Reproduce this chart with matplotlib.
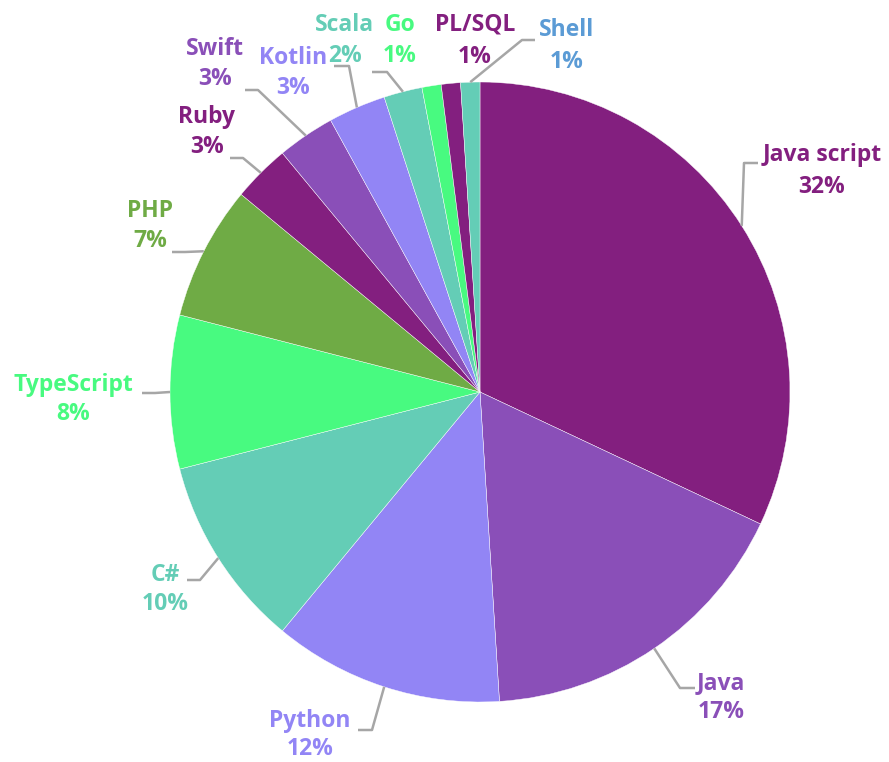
import matplotlib.pyplot as plt
import numpy as np

# data
languages = ['Java script', 'Java', 'Python', 'C#', 'TypeScript', 'PHP', 'Ruby',
             'Swift', 'Kotlin', 'Scala', 'Go', 'PL/SQL', 'Shell']
shares = [32, 17, 12, 10, 8, 7, 3, 3, 3, 2, 1, 1, 1]
slice_colors = ['#831F7F', '#8A4FB8', '#9285F5', '#64CDB6', '#48FA80', '#6FAB45', '#831F7F',
                '#8A4FB8', '#9285F5', '#64CDB6', '#48FA80', '#831F7F', '#64CDB6']
label_colors = slice_colors[:-1] + ['#5B9BD5']

# layout (pixels of the 889x762 image)
W, H = 889, 762
CX, CY, R = 480, 392, 310
# label centre x, first line y, second line y
label_pos = {
    'Java script': (822, 155, 187),
    'Java': (721, 683, 712),
    'Python': (310, 721, 749),
    'C#': (165, 575, 604),
    'TypeScript': (73, 385, 414),
    'PHP': (150, 211, 241),
    'Ruby': (207, 117, 147),
    'Swift': (215, 49, 79),
    'Kotlin': (293, 58, 88),
    'Scala': (345, 25, 56),
    'Go': (400, 25, 56),
    'PL/SQL': (475, 25, 57),
    'Shell': (567, 30, 62),
}
# leader: end point near label, then elbow, then pie edge
leaders = {
    'Java script': [(758, 163), (744, 163)],
    'Java': [(695, 688), (680, 688)],
    'Python': [(358, 730), (372, 730)],
    'C#': [(187, 580), (200, 580)],
    'TypeScript': [(142, 393), (155, 393)],
    'PHP': [(172, 252), (185, 252)],
    'Ruby': [(230, 158), (243, 158)],
    'Swift': [(245, 90), (258, 90)],
    'Kotlin': [(334, 66), (349, 66)],
    'Scala': [(372, 72), (387, 72)],
    'Shell': [(535, 40), (522, 40)],
}


def px(x, y):
    return (x - CX) / R, (CY - y) / R


plt.rcParams['font.family'] = ['Open Sans', 'DejaVu Sans']
fig = plt.figure(figsize=(W / 100, H / 100), dpi=100)
ax = fig.add_axes([0, 0, 1, 1])

wedges, _ = ax.pie(shares, colors=slice_colors, startangle=90, counterclock=False,
                   radius=1, center=(0, 0), frame=True,
                   wedgeprops=dict(linewidth=0.3, edgecolor='white'))
ax.set_xlim(-CX / R, (W - CX) / R)
ax.set_ylim((CY - H) / R, CY / R)
ax.set_aspect('equal')
ax.axis('off')

for w, name, c in zip(wedges, languages, label_colors):
    mid = np.deg2rad((w.theta1 + w.theta2) / 2)
    edge = (np.cos(mid), np.sin(mid))
    if name in leaders:
        pts = [px(*p) for p in leaders[name]] + [edge]
        ax.plot([p[0] for p in pts], [p[1] for p in pts], color='#A6A6A6', lw=1.8,
                solid_capstyle='butt', zorder=1)
    lx, ly1, ly2 = label_pos[name]
    share = shares[languages.index(name)]
    ax.text(*px(lx, ly1), name, color=c, fontsize=16.5, fontweight='bold',
            ha='center', va='center')
    ax.text(*px(lx, ly2), f'{share}%', color=c, fontsize=16.5, fontweight='bold',
            ha='center', va='center')

fig.savefig('out.png', dpi=100)
